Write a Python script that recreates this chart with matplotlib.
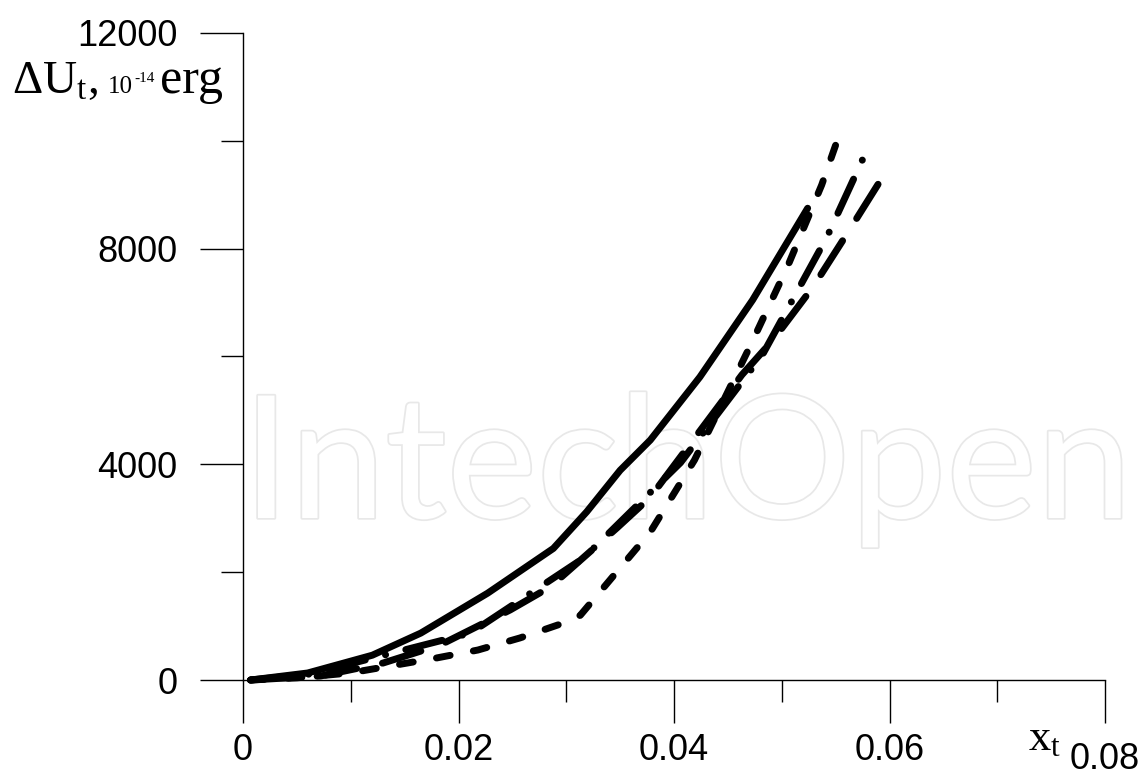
#!/usr/bin/env python3

import matplotlib
matplotlib.use("Agg")
import matplotlib.pyplot as plt
import matplotlib.patheffects as pe
from matplotlib.ticker import MultipleLocator, FuncFormatter

# Curve data (x_t, dU_t in 1e-14 erg)
x_solid = [0.0007, 0.006, 0.012, 0.0165, 0.0227, 0.0288, 0.0319, 0.0350,
           0.0378, 0.0424, 0.0473, 0.0524]
y_solid = [0, 130, 460, 870, 1610, 2440, 3120, 3890, 4450, 5620, 7050, 8750]

x_short = [0.0007, 0.005, 0.0099, 0.018, 0.0218, 0.0257, 0.0295, 0.0313,
           0.0378, 0.0419, 0.0472, 0.0506, 0.0537, 0.0554]
y_short = [0, 40, 130, 410, 556, 780, 1040, 1200, 2745, 4080, 6250, 7700,
           9180, 10150]

x_dashdot = [0.0007, 0.0062, 0.0121, 0.0211, 0.0316, 0.0406, 0.0482, 0.0542,
             0.0577]
y_dashdot = [0, 110, 410, 870, 2260, 4030, 6030, 8220, 9740]

x_long = [0.0007, 0.0072, 0.0130, 0.0183, 0.0248, 0.0285, 0.0347, 0.0378,
          0.0463, 0.0492, 0.0529, 0.0561, 0.0593]
y_long = [0, 74, 315, 650, 1300, 1725, 2820, 3390, 5660, 6310, 7290, 8290,
          9310]

x_ticks_major = [0, 0.02, 0.04, 0.06, 0.08]
y_ticks_major = [0, 4000, 8000, 12000]


def xfmt(v, p):
    # the last label (0.08) is drawn separately, a bit lower
    if abs(v) < 1e-9:
        return "0"
    if abs(v - 0.08) < 1e-9:
        return ""
    return f"{v:.2f}"


def draw():
    plt.rcParams["lines.scale_dashes"] = False
    plt.rcParams["mathtext.fontset"] = "custom"
    plt.rcParams["mathtext.rm"] = "Liberation Serif"
    plt.rcParams["mathtext.it"] = "Liberation Serif:italic"

    fig = plt.figure(figsize=(11.43, 7.8), dpi=100)
    ax = fig.add_axes([0.2126, 0.1282, 0.7542, 0.8295])

    # Faint watermark behind the curves
    ax.text(0.212, 1 - 518 / 780, "IntechOpen", transform=fig.transFigure,
            fontsize=123, family="Lato", color="white", zorder=0.5,
            va="baseline",
            path_effects=[pe.Stroke(linewidth=2.5, foreground="#e8e8e8"),
                          pe.Normal()])

    kw = dict(color="black", lw=5.0, clip_on=False, zorder=3,
              dash_capstyle="round", solid_capstyle="round",
              solid_joinstyle="round", dash_joinstyle="round")
    ax.plot(x_solid, y_solid, ls="-", **kw)
    ax.plot(x_short, y_short, ls=(0, (10, 17)), **kw)
    ax.plot(x_dashdot, y_dashdot, ls=(0, (27, 15, 0.1, 15)), **kw)
    ax.plot(x_long, y_long, ls=(0, (29, 19)), **kw)

    ax.set_xlim(0, 0.08)
    ax.set_ylim(0, 12000)

    for s in ["top", "right"]:
        ax.spines[s].set_visible(False)
    for s in ["left", "bottom"]:
        ax.spines[s].set_linewidth(1.0)

    ax.xaxis.set_major_locator(MultipleLocator(0.02))
    ax.xaxis.set_minor_locator(MultipleLocator(0.01))
    ax.yaxis.set_major_locator(MultipleLocator(4000))
    ax.yaxis.set_minor_locator(MultipleLocator(2000))
    ax.xaxis.set_major_formatter(FuncFormatter(xfmt))
    ax.yaxis.set_major_formatter(FuncFormatter(lambda v, p: f"{int(round(v))}"))

    ax.tick_params(which="major", length=31, width=1.0, direction="out",
                   labelsize=26, colors="black")
    ax.tick_params(which="minor", length=16, width=1.0, direction="out")
    ax.tick_params(axis="y", which="major", pad=16)
    ax.tick_params(axis="x", which="major", pad=7)
    for lab in ax.get_xticklabels() + ax.get_yticklabels():
        lab.set_family("Liberation Sans")

    fig.text(1105 / 1143, 1 - 769 / 780, "0.08", family="Liberation Sans",
             fontsize=26, ha="center", va="baseline")

    # Axis labels placed like in the original figure
    base = 1 - 93 / 780
    fig.text(12 / 1143, base, "\u0394U$_{\\mathrm{t}}$,",
             family="Liberation Serif", fontsize=34, va="baseline")
    fig.text(108 / 1143, base, "10", family="Liberation Serif",
             fontsize=18, va="baseline")
    fig.text(134 / 1143, base + 11 / 780, "-14", family="Liberation Serif",
             fontsize=11, va="baseline")
    fig.text(160 / 1143, base, "erg", family="Liberation Serif",
             fontsize=36, va="baseline")
    fig.text(1028 / 1143, 1 - 750 / 780, "x$_{\\mathrm{t}}$",
             family="Liberation Serif", fontsize=32, va="baseline")

    fig.savefig("out.png", dpi=100)


draw()
